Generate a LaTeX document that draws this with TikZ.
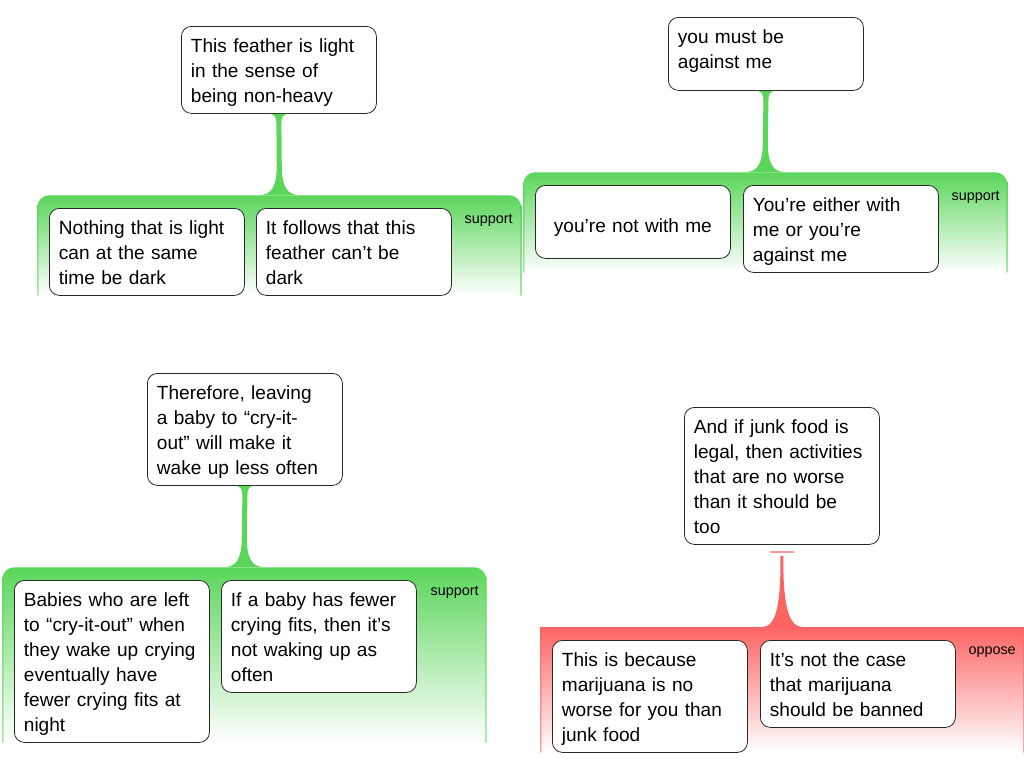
\documentclass[tikz,border=0pt]{standalone}
\usepackage{fontspec}
\setmainfont{Liberation Sans}
\usepackage{xcolor}
\usetikzlibrary{calc}
\definecolor{verde}{RGB}{90,214,90}
\definecolor{rojo}{RGB}{252,100,100}
\definecolor{gris}{RGB}{40,40,40}
\newcommand{\renglon}{\rule[-3.75pt]{0pt}{18.75pt}}

\begin{document}
\begin{tikzpicture}[
    x=0.75pt, y=-0.75pt,
    caja/.style={draw=gris, line width=0.6pt, fill=white, rounded corners=7.5pt, anchor=north west,
        text width=132pt, inner xsep=7.125pt, inner ysep=4.5pt, align=left,
        font=\fontsize{14.3pt}{18.75pt}\selectfont,
        execute at begin node={\hyphenpenalty=10000\renglon}, execute at end node=\renglon},
    zona/.style={anchor=north west, inner sep=0pt, minimum width=363pt, rounded corners=9pt},
    apoyo/.style={zona, top color=verde, bottom color=white},
    ataque/.style={zona, top color=rojo, bottom color=white, sharp corners},
    etiqueta/.style={anchor=base east, inner sep=0pt, font=\fontsize{10.8pt}{13pt}\selectfont},
    tallo/.style={to path={
        ($(\tikztostart)+(-11,0)$) .. controls ($(\tikztostart)+(-4,0)$) and ($(\tikztostart)+(-2.5,3)$) .. ($(\tikztostart)+(-2.5,10)$)
        -- ($(\tikztotarget)+(-2.5,-30)$) .. controls ($(\tikztotarget)+(-2.5,-8)$) and ($(\tikztotarget)+(-8,0)$) .. ($(\tikztotarget)+(-20,0)$)
        -- ($(\tikztotarget)+(20,0)$) .. controls ($(\tikztotarget)+(8,0)$) and ($(\tikztotarget)+(2.5,-8)$) .. ($(\tikztotarget)+(2.5,-30)$)
        -- ($(\tikztostart)+(2.5,10)$) .. controls ($(\tikztostart)+(2.5,3)$) and ($(\tikztostart)+(4,0)$) .. ($(\tikztostart)+(11,0)$) -- cycle}},
    tallorojo/.style={to path={
        ($(\tikztostart)+(-1.5,11)$) -- ($(\tikztostart)+(-1.5,25)$) .. controls ($(\tikztostart)+(-2,58)$) and ($(\tikztotarget)+(-6,0)$) .. ($(\tikztotarget)+(-20,0)$)
        -- ($(\tikztotarget)+(20,0)$) .. controls ($(\tikztotarget)+(6,0)$) and ($(\tikztostart)+(2,58)$) .. ($(\tikztostart)+(1.5,25)$)
        -- ($(\tikztostart)+(1.5,11)$) -- cycle}},
    barra/.style={draw=rojo!65!white, line width=1.5pt}
]
\useasboundingbox (0,0) rectangle (1024,768);
% Zonas
\node[apoyo, minimum height=75pt] (zonaA) at (37,195) {};
\node[apoyo, minimum height=75pt] (zonaB) at (523,172) {};
\node[apoyo, minimum height=131.25pt] (zonaC) at (2,567) {};
\node[ataque, minimum height=93.75pt] (zonaD) at (540,627) {};
% Bordes de las zonas
\foreach \z in {zonaA,zonaB,zonaC}
    \shade[top color=verde, bottom color=verde!55] ($(\z.north west)+(0,10)$) rectangle ($(\z.south west)+(1.5,0)$)
        ($(\z.north east)+(-1.5,10)$) rectangle (\z.south east);
\shade[top color=rojo, bottom color=rojo!55] (zonaD.north west) rectangle ($(zonaD.south west)+(1.5,0)$)
    ($(zonaD.north east)+(-1.5,0)$) rectangle (zonaD.south east);
% Conclusiones
\node[caja] (claimA) at (181,26) {This feather is light\\in the sense of\\being non-heavy};
\node[caja] (claimB) at (668,17) {you must be\\against me\rule[-12pt]{0pt}{1pt}};
\node[caja] (claimC) at (147,373) {Therefore, leaving\\a baby to “cry-it-\\out” will make it\\wake up less often};
\node[caja] (claimD) at (684,407) {And if junk food is\\legal, then activities\\that are no worse\\than it should be\\too};
% Tallos
\fill[verde] (claimA.south) to[tallo] (zonaA.north);
\fill[verde] (claimB.south) to[tallo] (zonaB.north);
\fill[verde] (claimC.south) to[tallo] (zonaC.north);
\fill[rojo] (claimD.south) to[tallorojo] (zonaD.north);
\draw[barra] ($(claimD.south)+(-12,7)$) -- ($(claimD.south)+(12,7)$);
% Premisas
\node[caja] (premA1) at (49,208) {Nothing that is light\\can at the same\\time be dark};
\node[caja] (premA2) at (256,208) {It follows that this\\feather can’t be\\dark};
\node[caja, align=center, minimum height=54.75pt] (premB1) at (535,185) {\rule{0pt}{19.5pt}you’re not with me};
\node[caja] (premB2) at (743,185) {You’re either with\\me or you’re\\against me};
\node[caja] (premC1) at (14,580) {Babies who are left\\to “cry-it-out” when\\they wake up crying\\eventually have\\fewer crying fits at\\night};
\node[caja] (premC2) at (221,580) {If a baby has fewer\\crying fits, then it’s\\not waking up as\\often};
\node[caja] (premD1) at (552,640) {This is because\\marijuana is no\\worse for you than\\junk food};
\node[caja] (premD2) at (760,640) {It’s not the case\\that marijuana\\should be banned};
% Etiquetas
\node[etiqueta] (etiqA) at (513,223) {support};
\node[etiqueta] (etiqB) at (1000,200) {support};
\node[etiqueta] (etiqC) at (479,595) {support};
\node[etiqueta] (etiqD) at (1016,654) {oppose};
\end{tikzpicture}
\end{document}
